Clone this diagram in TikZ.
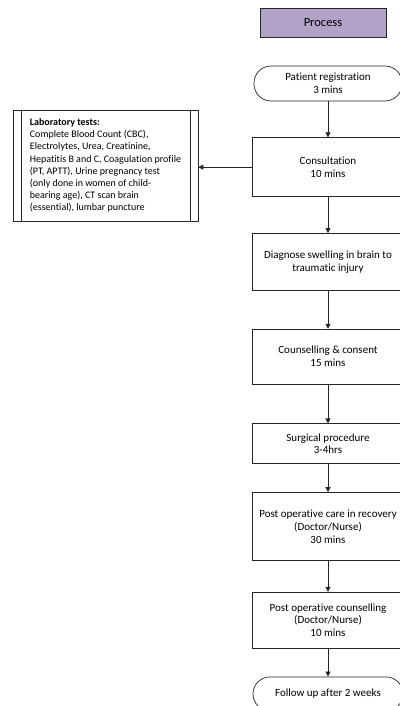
\documentclass[tikz,border=0pt]{standalone}
\usepackage{fontspec}
\setmainfont{Carlito}[Ligatures=NoCommon]
\usepackage{tikz}
\usepackage{xcolor}
\usetikzlibrary{arrows.meta, positioning, calc}
\definecolor{processlilac}{RGB}{178,162,199}
\definecolor{lineblack}{RGB}{38,38,38}

\begin{document}
\begin{tikzpicture}[
        node distance=36pt,
        stepbox/.style={rectangle, draw=lineblack, line width=0.7pt, minimum width=152pt, align=center, font=\fontsize{11pt}{12.8pt}\selectfont},
        termbox/.style={rectangle, rounded corners=17pt, draw=lineblack, line width=0.7pt, minimum width=148pt, minimum height=35pt, align=center, font=\fontsize{11pt}{12.8pt}\selectfont},
        headbox/.style={rectangle, draw=lineblack, line width=0.8pt, fill=processlilac, minimum width=126pt, minimum height=29pt, font=\fontsize{12.5pt}{14pt}\selectfont},
        labbox/.style={rectangle, draw=lineblack, line width=0.7pt, minimum width=185pt, minimum height=111pt, align=left, font=\fontsize{10pt}{12.2pt}\selectfont},
        flow/.style={-{Triangle[length=5pt, width=5pt]}, line width=0.7pt, lineblack},
    ]
    \path[use as bounding box] (0pt,0pt) rectangle (399pt,-706pt);

    % Titolo
    \node[headbox] (process) at (323pt,-22.5pt) {Process};

    % Percorso del paziente
    \node[termbox] (reg) at (328pt,-83.5pt) {Patient registration\\3 mins};
    \node[stepbox, minimum height=59pt, below=36pt of reg] (consult) {Consultation\\10 mins};
    \node[stepbox, minimum height=57pt, below=36pt of consult] (diag) {Diagnose swelling in brain to\\traumatic injury};
    \node[stepbox, minimum height=55pt, below=38pt of diag] (counsel) {Counselling \& consent\\15 mins};
    \node[stepbox, minimum height=40pt, below=39pt of counsel] (surg) {Surgical procedure\\3-4hrs};
    \node[stepbox, minimum height=68pt, below=28pt of surg] (postcare) {Post operative care in recovery\\(Doctor/Nurse)\\30 mins};
    \node[stepbox, minimum height=56pt, below=31pt of postcare] (postcounsel) {Post operative counselling\\(Doctor/Nurse)\\10 mins};
    \node[termbox, minimum width=150pt, minimum height=34pt, below=28pt of postcounsel] (follow) {Follow up after 2 weeks};

    % Esami di laboratorio
    \node[labbox] (lab) at (105.5pt,-165.5pt) {\textbf{Laboratory tests:}\\Complete Blood Count (CBC),\\Electrolytes, Urea, Creatinine,\\Hepatitis B and C, Coagulation profile\\(PT, APTT), Urine pregnancy test\\(only done in women of child-\\bearing age), CT scan brain\\(essential), lumbar puncture};
    \draw[lineblack, line width=0.7pt] ([xshift=9pt]lab.north west) -- ([xshift=9pt]lab.south west);
    \draw[lineblack, line width=0.7pt] ([xshift=-8pt]lab.north east) -- ([xshift=-8pt]lab.south east);

    % Frecce
    \draw[flow] (reg) -- (consult);
    \draw[flow] (consult) -- (diag);
    \draw[flow] (diag) -- (counsel);
    \draw[flow] (counsel) -- (surg);
    \draw[flow] (surg) -- (postcare);
    \draw[flow] (postcare) -- (postcounsel);
    \draw[flow] (postcounsel) -- (follow);
    \draw[flow] (consult.west) -- (consult.west -| lab.east);
\end{tikzpicture}
\end{document}
